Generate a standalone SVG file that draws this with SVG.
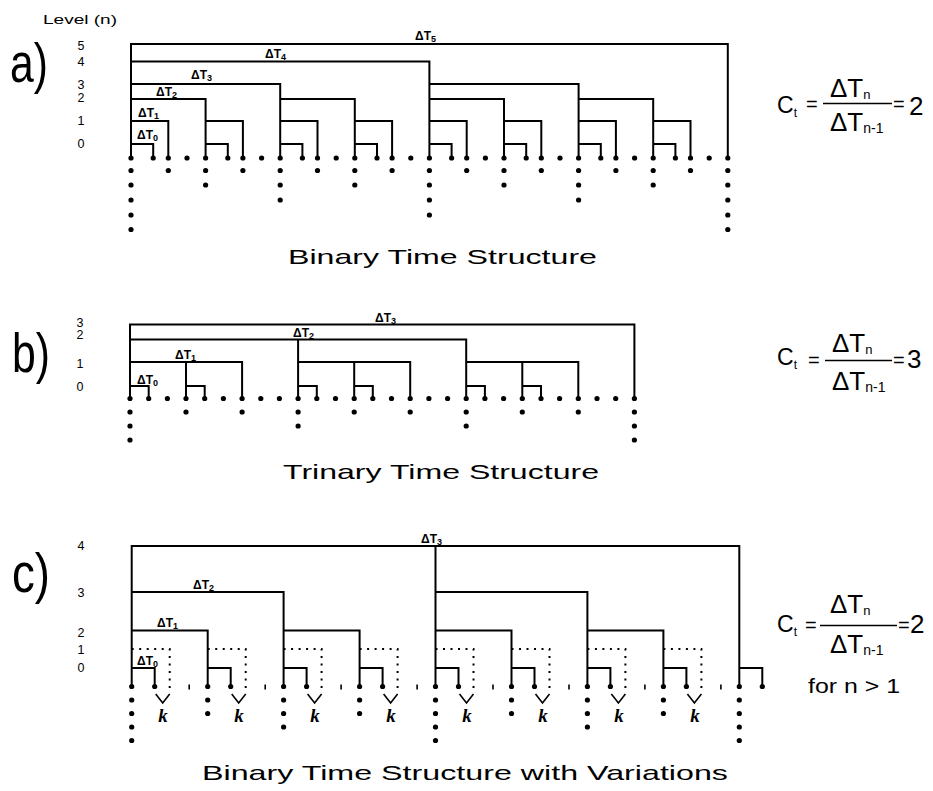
<svg xmlns="http://www.w3.org/2000/svg" width="933" height="791" viewBox="0 0 933 791">
<style>
.ln{fill:none;stroke:#000;stroke-width:2;stroke-linecap:square}
.dot{fill:none;stroke:#000;stroke-width:2;stroke-dasharray:2 5.5;stroke-linecap:butt}
.thin{fill:none;stroke:#000;stroke-width:1.6}
text{font-family:"Liberation Sans",Arial,sans-serif;fill:#000}
.big{font-size:56px}
.lv{font-size:12.5px;text-anchor:middle}
.dt{font-size:12px;font-weight:bold}
.sb{font-size:9px}
.ti{font-size:21px}
.fm{font-size:26px}
.cc{font-size:23px}
.eq{font-size:20px}
.k{font-family:"Liberation Serif",serif;font-style:italic;font-weight:bold;font-size:19px;text-anchor:middle}
</style>
<defs><circle id="d" r="2.6" fill="#000"/></defs>
<rect width="933" height="791" fill="#fff"/>
<text x="43" y="24" font-size="13" textLength="74" lengthAdjust="spacingAndGlyphs">Level (n)</text>

<!-- Panel a -->
<g id="panel-a">
<text class="big" x="10" y="82" textLength="38" lengthAdjust="spacingAndGlyphs">a)</text>
<g id="a-levels">
<text class="lv" x="81" y="50">5</text><text class="lv" x="81" y="66">4</text><text class="lv" x="81" y="89">3<tspan x="81" dy="13">2</tspan></text><text class="lv" x="81" y="125">1</text><text class="lv" x="81" y="148">0</text>
</g>
<g id="a-connectors">
<path class="ln" d="M131 158V44H727.8V158M131 158V61.5H429.4V158M131 158V84H280.2V158M429.4 158V84H578.6V158M131 99H205.6V158M280.2 99H354.8V158M429.4 99H504V158M578.6 99H653.2V158M131 121H168.3V158M205.6 121H242.9V158M280.2 121H317.5V158M354.8 121H392.1V158M429.4 121H466.7V158M504 121H541.3V158M578.6 121H615.9V158M653.2 121H690.5V158M131 144H153.2V158M205.6 144H227.8V158M280.2 144H302.4V158M354.8 144H377V158M429.4 144H451.6V158M504 144H526.2V158M578.6 144H600.8V158M653.2 144H675.4V158"/>
</g>
<g id="a-dots">
<use href="#d" x="131" y="158"/><use href="#d" x="153.2" y="158"/><use href="#d" x="168.3" y="158"/><use href="#d" x="187" y="158"/><use href="#d" x="205.6" y="158"/><use href="#d" x="227.8" y="158"/><use href="#d" x="242.9" y="158"/><use href="#d" x="261.6" y="158"/><use href="#d" x="280.2" y="158"/><use href="#d" x="302.4" y="158"/><use href="#d" x="317.5" y="158"/><use href="#d" x="336.2" y="158"/><use href="#d" x="354.8" y="158"/><use href="#d" x="377" y="158"/><use href="#d" x="392.1" y="158"/><use href="#d" x="410.8" y="158"/><use href="#d" x="429.4" y="158"/><use href="#d" x="451.6" y="158"/><use href="#d" x="466.7" y="158"/><use href="#d" x="485.4" y="158"/><use href="#d" x="504" y="158"/><use href="#d" x="526.2" y="158"/><use href="#d" x="541.3" y="158"/><use href="#d" x="560" y="158"/><use href="#d" x="578.6" y="158"/><use href="#d" x="600.8" y="158"/><use href="#d" x="615.9" y="158"/><use href="#d" x="634.6" y="158"/><use href="#d" x="653.2" y="158"/><use href="#d" x="675.4" y="158"/><use href="#d" x="690.5" y="158"/><use href="#d" x="709.2" y="158"/><use href="#d" x="727.8" y="158"/>
<use href="#d" x="131" y="170.5"/><use href="#d" x="131" y="185"/><use href="#d" x="131" y="200"/><use href="#d" x="131" y="215"/><use href="#d" x="131" y="229.5"/>
<use href="#d" x="168.3" y="170.5"/>
<use href="#d" x="205.6" y="170.5"/><use href="#d" x="205.6" y="185"/>
<use href="#d" x="242.9" y="170.5"/>
<use href="#d" x="280.2" y="170.5"/><use href="#d" x="280.2" y="185"/><use href="#d" x="280.2" y="200"/>
<use href="#d" x="317.5" y="170.5"/>
<use href="#d" x="354.8" y="170.5"/><use href="#d" x="354.8" y="185"/>
<use href="#d" x="392.1" y="170.5"/>
<use href="#d" x="429.4" y="170.5"/><use href="#d" x="429.4" y="185"/><use href="#d" x="429.4" y="200"/><use href="#d" x="429.4" y="215"/>
<use href="#d" x="466.7" y="170.5"/>
<use href="#d" x="504" y="170.5"/><use href="#d" x="504" y="185"/>
<use href="#d" x="541.3" y="170.5"/>
<use href="#d" x="578.6" y="170.5"/><use href="#d" x="578.6" y="185"/><use href="#d" x="578.6" y="200"/>
<use href="#d" x="615.9" y="170.5"/>
<use href="#d" x="653.2" y="170.5"/><use href="#d" x="653.2" y="185"/>
<use href="#d" x="690.5" y="170.5"/>
<use href="#d" x="727.8" y="170.5"/><use href="#d" x="727.8" y="185"/><use href="#d" x="727.8" y="200"/><use href="#d" x="727.8" y="215"/><use href="#d" x="727.8" y="229.5"/>
</g>
<g id="a-labels">
<text class="dt" x="415" y="40">ΔT<tspan class="sb" dy="2">5</tspan></text>
<text class="dt" x="265" y="58">ΔT<tspan class="sb" dy="2">4</tspan></text>
<text class="dt" x="191" y="79">ΔT<tspan class="sb" dy="2">3</tspan></text>
<text class="dt" x="156" y="96">ΔT<tspan class="sb" dy="2">2</tspan></text>
<text class="dt" x="138" y="117">ΔT<tspan class="sb" dy="2">1</tspan></text>
<text class="dt" x="137" y="139">ΔT<tspan class="sb" dy="2">0</tspan></text>
</g>
<text class="ti" x="288" y="264" textLength="309" lengthAdjust="spacingAndGlyphs">Binary Time Structure</text>
<g id="a-formula">
<text class="cc" x="777" y="113">C<tspan font-size="12" dy="4">t</tspan></text>
<text class="eq" x="806" y="110.5">=</text>
<text class="fm" x="830" y="97">ΔT<tspan font-size="13" dy="2">n</tspan></text>
<path class="thin" d="M823 103.5H892"/>
<text class="fm" x="830" y="131">ΔT<tspan font-size="14" dy="2">n-1</tspan></text>
<text class="eq" x="893" y="110.5">=</text><text class="fm" x="909" y="115">2</text>
</g>
</g>

<!-- Panel b -->
<g id="panel-b">
<text class="big" x="12" y="372" textLength="38" lengthAdjust="spacingAndGlyphs">b)</text>
<g id="b-levels">
<text class="lv" x="80" y="327" font-size="11">3<tspan x="80" dy="12">2</tspan></text><text class="lv" x="80" y="367.5">1</text><text class="lv" x="80" y="390.5">0</text>
</g>
<g id="b-connectors">
<path class="ln" d="M130 398.5V324.5H634.4V398.5M130 339.5H466.2V398.5M298.1 339.5V398.5M130 362H242.1V398.5M186 362V398.5M298.1 362H410.2V398.5M354.2 362V398.5M466.2 362H578.3V398.5M522.3 362V398.5M130 386H148.7V398.5M186 386H204.7V398.5M298.1 386H316.8V398.5M354.2 386H372.8V398.5M466.2 386H484.9V398.5M522.3 386H541V398.5"/>
</g>
<g id="b-dots">
<use href="#d" x="130" y="398.5"/><use href="#d" x="148.7" y="398.5"/><use href="#d" x="167.4" y="398.5"/><use href="#d" x="186" y="398.5"/><use href="#d" x="204.7" y="398.5"/><use href="#d" x="223.4" y="398.5"/><use href="#d" x="242.1" y="398.5"/><use href="#d" x="260.8" y="398.5"/><use href="#d" x="279.4" y="398.5"/><use href="#d" x="298.1" y="398.5"/><use href="#d" x="316.8" y="398.5"/><use href="#d" x="335.5" y="398.5"/><use href="#d" x="354.2" y="398.5"/><use href="#d" x="372.8" y="398.5"/><use href="#d" x="391.5" y="398.5"/><use href="#d" x="410.2" y="398.5"/><use href="#d" x="428.9" y="398.5"/><use href="#d" x="447.6" y="398.5"/><use href="#d" x="466.2" y="398.5"/><use href="#d" x="484.9" y="398.5"/><use href="#d" x="503.6" y="398.5"/><use href="#d" x="522.3" y="398.5"/><use href="#d" x="541" y="398.5"/><use href="#d" x="559.6" y="398.5"/><use href="#d" x="578.3" y="398.5"/><use href="#d" x="597" y="398.5"/><use href="#d" x="615.7" y="398.5"/><use href="#d" x="634.4" y="398.5"/>
<use href="#d" x="130" y="412"/><use href="#d" x="130" y="426"/><use href="#d" x="130" y="440"/>
<use href="#d" x="186" y="412"/><use href="#d" x="242.1" y="412"/>
<use href="#d" x="298.1" y="412"/><use href="#d" x="298.1" y="426"/>
<use href="#d" x="354.2" y="412"/><use href="#d" x="410.2" y="412"/>
<use href="#d" x="466.2" y="412"/><use href="#d" x="466.2" y="426"/>
<use href="#d" x="522.3" y="412"/><use href="#d" x="578.3" y="412"/>
<use href="#d" x="634.4" y="412"/><use href="#d" x="634.4" y="426"/><use href="#d" x="634.4" y="440"/>
</g>
<g id="b-labels">
<text class="dt" x="137" y="384">ΔT<tspan class="sb" dy="2">0</tspan></text>
<text class="dt" x="175" y="359">ΔT<tspan class="sb" dy="2">1</tspan></text>
<text class="dt" x="293" y="337">ΔT<tspan class="sb" dy="2">2</tspan></text>
<text class="dt" x="375" y="322">ΔT<tspan class="sb" dy="2">3</tspan></text>
</g>
<text class="ti" x="283" y="479" textLength="316" lengthAdjust="spacingAndGlyphs">Trinary Time Structure</text>
<g id="b-formula">
<text class="cc" x="777" y="365">C<tspan font-size="12" dy="4">t</tspan></text>
<text class="eq" x="808" y="367">=</text>
<text class="fm" x="832" y="352">ΔT<tspan font-size="13" dy="2">n</tspan></text>
<path class="thin" d="M825 360.5H892"/>
<text class="fm" x="832" y="390">ΔT<tspan font-size="14" dy="2">n-1</tspan></text>
<text class="eq" x="893" y="367">=</text><text class="fm" x="907" y="368">3</text>
</g>
</g>

<!-- Panel c -->
<g id="panel-c">
<text class="big" x="12" y="592" textLength="38" lengthAdjust="spacingAndGlyphs">c)</text>
<g id="c-levels">
<text class="lv" x="81" y="550">4</text><text class="lv" x="81" y="597">3</text><text class="lv" x="81" y="637">2<tspan x="81" dy="17">1</tspan><tspan x="81" dy="18">0</tspan></text>
</g>
<g id="c-connectors">
<path class="ln" d="M131.7 686.5V546H739.3V686.5M435.5 546V686.5M131.7 592H283.6V686.5M435.5 592H587.4V686.5M131.7 630.5H207.7V686.5M283.6 630.5H359.6V686.5M435.5 630.5H511.5V686.5M587.4 630.5H663.4V686.5M131.7 668H154.7V686.5M207.7 668H230.7V686.5M283.6 668H306.6V686.5M359.6 668H382.6V686.5M435.5 668H458.5V686.5M511.5 668H534.5V686.5M587.4 668H610.4V686.5M663.4 668H686.4V686.5M739.3 668H762.3V686.5"/>
<path class="dot" d="M131.7 649H169.7V692M207.7 649H245.7V692M283.6 649H321.6V692M359.6 649H397.6V692M435.5 649H473.5V692M511.5 649H549.5V692M587.4 649H625.4V692M663.4 649H701.4V692"/>
<path class="thin" d="M155.7 694L162.7 703L169.7 694M231.7 694L238.7 703L245.7 694M307.6 694L314.6 703L321.6 694M383.6 694L390.6 703L397.6 694M459.5 694L466.5 703L473.5 694M535.5 694L542.5 703L549.5 694M611.4 694L618.4 703L625.4 694M687.4 694L694.4 703L701.4 694"/>
<path class="thin" d="M189.2 684.5V689.5M265.2 684.5V689.5M341.1 684.5V689.5M417.1 684.5V689.5M493 684.5V689.5M569 684.5V689.5M644.9 684.5V689.5M720.9 684.5V689.5" stroke-width="2"/>
</g>
<g id="c-dots">
<use href="#d" x="131.7" y="686.5"/><use href="#d" x="154.7" y="686.5"/><use href="#d" x="207.7" y="686.5"/><use href="#d" x="230.7" y="686.5"/><use href="#d" x="283.6" y="686.5"/><use href="#d" x="306.6" y="686.5"/><use href="#d" x="359.6" y="686.5"/><use href="#d" x="382.6" y="686.5"/><use href="#d" x="435.5" y="686.5"/><use href="#d" x="458.5" y="686.5"/><use href="#d" x="511.5" y="686.5"/><use href="#d" x="534.5" y="686.5"/><use href="#d" x="587.4" y="686.5"/><use href="#d" x="610.4" y="686.5"/><use href="#d" x="663.4" y="686.5"/><use href="#d" x="686.4" y="686.5"/><use href="#d" x="739.3" y="686.5"/><use href="#d" x="762.3" y="686.5"/>
<use href="#d" x="131.7" y="700"/><use href="#d" x="131.7" y="713.5"/><use href="#d" x="131.7" y="727"/><use href="#d" x="131.7" y="740.5"/>
<use href="#d" x="207.7" y="700"/><use href="#d" x="207.7" y="713.5"/>
<use href="#d" x="283.6" y="700"/><use href="#d" x="283.6" y="713.5"/><use href="#d" x="283.6" y="727"/>
<use href="#d" x="359.6" y="700"/><use href="#d" x="359.6" y="713.5"/>
<use href="#d" x="435.5" y="700"/><use href="#d" x="435.5" y="713.5"/><use href="#d" x="435.5" y="727"/><use href="#d" x="435.5" y="740.5"/>
<use href="#d" x="511.5" y="700"/><use href="#d" x="511.5" y="713.5"/>
<use href="#d" x="587.4" y="700"/><use href="#d" x="587.4" y="713.5"/><use href="#d" x="587.4" y="727"/>
<use href="#d" x="663.4" y="700"/><use href="#d" x="663.4" y="713.5"/>
<use href="#d" x="739.3" y="700"/><use href="#d" x="739.3" y="713.5"/><use href="#d" x="739.3" y="727"/><use href="#d" x="739.3" y="740.5"/>
</g>
<g id="c-k">
<text class="k" x="163" y="722">k</text><text class="k" x="239" y="722">k</text><text class="k" x="315" y="722">k</text><text class="k" x="391" y="722">k</text><text class="k" x="467" y="722">k</text><text class="k" x="543" y="722">k</text><text class="k" x="619" y="722">k</text><text class="k" x="695" y="722">k</text>
</g>
<g id="c-labels">
<text class="dt" x="137" y="665">ΔT<tspan class="sb" dy="2">0</tspan></text>
<text class="dt" x="157" y="627">ΔT<tspan class="sb" dy="2">1</tspan></text>
<text class="dt" x="193" y="589">ΔT<tspan class="sb" dy="2">2</tspan></text>
<text class="dt" x="421" y="543">ΔT<tspan class="sb" dy="2">3</tspan></text>
</g>
<text class="ti" x="202" y="780" textLength="526" lengthAdjust="spacingAndGlyphs">Binary Time Structure with Variations</text>
<g id="c-formula">
<text class="fm" x="830" y="613">ΔT<tspan font-size="13" dy="2">n</tspan></text>
<text class="cc" x="777" y="632">C<tspan font-size="12" dy="4">t</tspan></text>
<text class="eq" x="805" y="631.5">=</text>
<path class="thin" d="M820 625.5H897"/>
<text class="fm" x="830" y="653">ΔT<tspan font-size="14" dy="2">n-1</tspan></text>
<text class="eq" x="898" y="631.5">=</text><text class="fm" x="910" y="633">2</text>
<text x="808" y="693" font-size="20" textLength="92" lengthAdjust="spacingAndGlyphs">for n &gt; 1</text>
</g>
</g>
</svg>
